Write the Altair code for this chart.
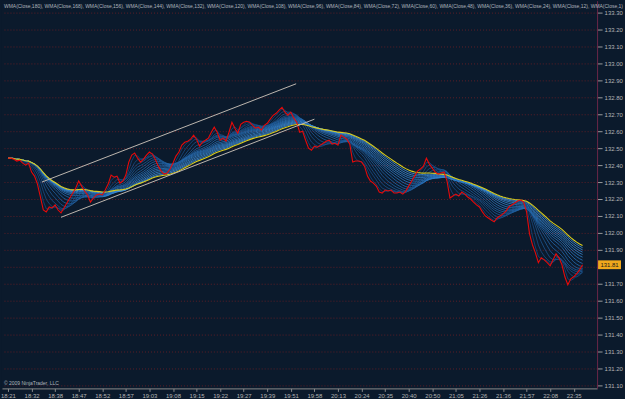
import altair as alt
import pandas as pd

# ---------------- data ----------------
close = [
    132.441, 132.441, 132.435, 132.424, 132.429, 132.412, 132.400, 132.412, 132.359, 132.335,
    132.288, 132.212, 132.135, 132.124, 132.153, 132.147, 132.165, 132.135, 132.118, 132.147,
    132.176, 132.206, 132.235, 132.265, 132.306, 132.276, 132.247, 132.224, 132.182, 132.206,
    132.224, 132.229, 132.224, 132.253, 132.288, 132.341, 132.329, 132.335, 132.294, 132.306,
    132.341, 132.418, 132.459, 132.471, 132.441, 132.418, 132.435, 132.459, 132.477, 132.465,
    132.435, 132.394, 132.365, 132.347, 132.353, 132.377, 132.412, 132.453, 132.477, 132.518,
    132.535, 132.541, 132.553, 132.577, 132.553, 132.512, 132.535, 132.547, 132.559, 132.594,
    132.624, 132.594, 132.547, 132.559, 132.541, 132.594, 132.653, 132.618, 132.588, 132.641,
    132.653, 132.659, 132.653, 132.635, 132.618, 132.624, 132.606, 132.635, 132.647, 132.671,
    132.694, 132.706, 132.724, 132.741, 132.712, 132.694, 132.712, 132.677, 132.653, 132.594,
    132.600, 132.547, 132.500, 132.488, 132.512, 132.506, 132.518, 132.529, 132.541, 132.547,
    132.524, 132.529, 132.518, 132.577, 132.565, 132.553, 132.524, 132.418, 132.424, 132.424,
    132.418, 132.394, 132.335, 132.306, 132.294, 132.276, 132.241, 132.235, 132.253, 132.247,
    132.253, 132.235, 132.235, 132.241, 132.229, 132.247, 132.276, 132.306, 132.335, 132.365,
    132.377, 132.394, 132.441, 132.406, 132.382, 132.359, 132.347, 132.353, 132.359, 132.306,
    132.206, 132.218, 132.229, 132.218, 132.241, 132.229, 132.212, 132.200, 132.182, 132.165,
    132.153, 132.124, 132.100, 132.088, 132.076, 132.065, 132.088, 132.100, 132.112, 132.129,
    132.153, 132.165, 132.176, 132.188, 132.194, 132.182, 132.124, 131.994, 131.929, 131.882,
    131.824, 131.853, 131.841, 131.824, 131.806, 131.841, 131.876, 131.853, 131.812, 131.741,
    131.694, 131.729, 131.741, 131.759, 131.782, 131.812,
]

time_labels = [
    "18:21", "18:32", "18:38", "18:47", "18:52", "18:57", "19:03", "19:08", "19:15",
    "19:22", "19:27", "19:39", "19:51", "19:58", "20:13", "20:24", "20:35", "20:40",
    "20:50", "21:05", "21:26", "21:36", "21:57", "22:08", "22:35",
]
bars_per_label = 8

wma_periods = [180, 168, 156, 144, 132, 120, 108, 96, 84, 72, 60, 48, 36, 24, 12, 1]
bars_per_sample = 4  # each value above stands for about four chart bars

price_ticks = [131.1, 131.2, 131.3, 131.4, 131.5, 131.6, 131.7, 131.8, 131.9, 132.0, 132.1,
               132.2, 132.3, 132.4, 132.5, 132.6, 132.7, 132.8, 132.9, 133.0, 133.1, 133.2, 133.3]

trend_id = ["upper", "upper", "lower", "lower"]
trend_bar = [11.5, 97.8, 18.0, 104.0]
trend_price = [132.30, 132.88, 132.092, 132.671]

copyright_text = "\u00a9 2009 NinjaTrader, LLC"

# ---------------- styling ----------------
BG = "#0b1a2c"
FONT = "Liberation Sans"
fan_colors = ["#4ea6f4", "#489fee", "#4298e8", "#3c91e1", "#378ad9", "#3283d1", "#2e7cc9",
              "#2a75c0", "#266eb6", "#2367ac", "#2060a2", "#1d5998", "#1a528e", "#184b84"]

df = pd.DataFrame({"bar": list(range(len(close))), "close": close})
trend_df = pd.DataFrame({"id": trend_id, "bar": trend_bar, "price": trend_price})

x_scale = alt.Scale(domain=[-2.03, 199.93], nice=False, zero=False)
y_scale = alt.Scale(domain=[131.0824, 133.3706], nice=False, zero=False)

x_values = [i * bars_per_label for i in range(len(time_labels))]
label_expr = "[" + ",".join("'%s'" % t for t in time_labels) + "][round(datum.value/%d)]" % bars_per_label
x_axis = alt.Axis(values=x_values, tickCount=len(x_values), labelExpr=label_expr,
                  grid=False, domainColor="#8c8c8c", tickColor="#8c8c8c", tickSize=3,
                  labelColor="#b4b4b4", labelFontSize=6, labelFont=FONT, labelPadding=1,
                  labelOverlap=False, title=None, labelFlush=False)
# the price label hidden under the last-price marker is left blank, as in the reference
y_label_expr = "abs(datum.value - %s) < 0.05 ? '' : format(datum.value, '.2f')" % close[-1]
y_axis = alt.Axis(orient="right", values=price_ticks, tickCount=len(price_ticks),
                  labelExpr=y_label_expr, grid=True,
                  gridColor="#5e1e26", gridDash=[1, 2], gridWidth=1,
                  domainColor="#6a2648", tickColor="#9a9a9a", tickSize=5,
                  labelColor="#b4b4b4", labelFontSize=6, labelFont=FONT, labelPadding=2,
                  labelOverlap=False, labelFlush=False, title=None)

# WMA fan computed by Vega-Lite window transforms from the close values
wma_names = []
chain = alt.Chart(df).transform_calculate(bx="datum.bar * datum.close")
for p in wma_periods:
    if p == 1:
        continue
    n = max(1, round(p / bars_per_sample))
    chain = chain.transform_window(
        window=[
            {"op": "sum", "field": "bar", "as": f"s0_{p}"},
            {"op": "sum", "field": "close", "as": f"s1_{p}"},
            {"op": "sum", "field": "bx", "as": f"s2_{p}"},
            {"op": "count", "as": f"c_{p}"},
        ],
        frame=[-(n - 1), 0],
        sort=[alt.SortField("bar")],
    )
    chain = chain.transform_calculate(**{
        f"wma{p}": f"(datum.s2_{p} - (datum.bar - {n}) * datum.s1_{p}) / "
                   f"(datum.s0_{p} - (datum.bar - {n}) * datum.c_{p})"
    })
    wma_names.append(f"wma{p}")

folded = chain.transform_fold(wma_names, as_=["series", "value"])
slow = wma_names[0]
fan_names = wma_names[1:]

fan = folded.transform_filter(alt.FieldOneOfPredicate(field="series", oneOf=fan_names)).mark_line(
    strokeWidth=0.8, opacity=0.9).encode(
    x=alt.X("bar:Q", scale=x_scale, axis=x_axis),
    y=alt.Y("value:Q", scale=y_scale, axis=y_axis),
    color=alt.Color("series:N", scale=alt.Scale(domain=fan_names, range=fan_colors), legend=None),
)

yellow = folded.transform_filter(alt.FieldEqualPredicate(field="series", equal=slow)).mark_line(
    strokeWidth=1.1, color="#d9cc1c").encode(
    x=alt.X("bar:Q", scale=x_scale, axis=x_axis), y=alt.Y("value:Q", scale=y_scale, axis=y_axis))

price_line = alt.Chart(df).mark_line(strokeWidth=1.1, color="#e60a0a").encode(
    x=alt.X("bar:Q", scale=x_scale, axis=x_axis), y=alt.Y("close:Q", scale=y_scale, axis=y_axis))

trend = alt.Chart(trend_df).mark_line(strokeWidth=1, color="#bdb6ae").encode(
    x=alt.X("bar:Q", scale=x_scale, axis=x_axis), y=alt.Y("price:Q", scale=y_scale, axis=y_axis),
    detail="id:N")

legend_text = ", ".join(f"WMA(Close,{p})" for p in wma_periods)
legend = alt.Chart(pd.DataFrame({"t": [legend_text]})).mark_text(
    align="left", baseline="middle", fontSize=5, font=FONT, color="#aeb4bc").encode(
    text="t:N", x=alt.value(2), y=alt.value(5))

copyright_mark = alt.Chart(pd.DataFrame({"t": [copyright_text]})).mark_text(
    align="left", baseline="middle", fontSize=5, font=FONT, color="#aeb4bc").encode(
    text="t:N", x=alt.value(2), y=alt.value(384))

last_df = pd.DataFrame({"price": [close[-1]], "label": [f"{close[-1]:.2f}"]})
marker_box = alt.Chart(last_df).transform_calculate(
    lo="datum.price - 0.026", hi="datum.price + 0.026").mark_rect(color="#f0a81c").encode(
    x=alt.value(598), x2=alt.value(621),
    y=alt.Y("lo:Q", scale=y_scale, axis=y_axis), y2="hi:Q")
marker_text = alt.Chart(last_df).mark_text(
    align="center", baseline="middle", fontSize=6, font=FONT, color="#1a1a1a").encode(
    x=alt.value(609.5), y=alt.Y("price:Q", scale=y_scale, axis=y_axis), text="label:N")

chart = alt.layer(fan, yellow, price_line, trend, legend, copyright_mark, marker_box, marker_text).properties(
    width=597, height=389, padding=0, background=BG
).configure_view(stroke=None, fill=BG)

chart.save("out.html", embed_options={"renderer": "svg", "actions": False})
